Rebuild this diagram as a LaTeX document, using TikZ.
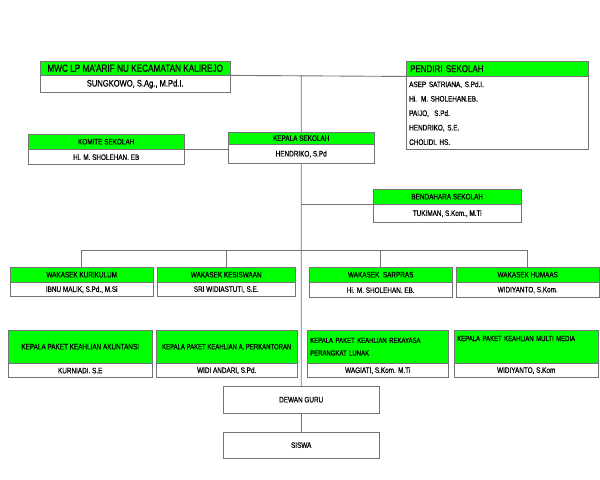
\documentclass[tikz,border=0pt]{standalone}
\usepackage{fontspec}
\setmainfont{Liberation Sans}[FakeStretch=0.8, FakeBold=0.6]
\usetikzlibrary{positioning, backgrounds}
\definecolor{boxgreen}{RGB}{0,255,0}
\definecolor{linegray}{RGB}{115,115,115}
\tikzset{
every node/.style={font=\fontsize{8}{10}\selectfont}, % small condensed text everywhere
head/.style={draw=linegray, fill=boxgreen, anchor=north west, inner sep=2bp, minimum height=15bp}, % green title part
body/.style={draw=linegray, fill=white, inner sep=2bp, minimum height=15bp}, % white name part
link/.style={draw=linegray, line width=0.9bp}, % connecting lines
}

\begin{document}
\begin{tikzpicture}[x=1bp, y=-1bp]
    \useasboundingbox (0,0) rectangle (600,480);
    \coordinate (bus) at (0,250);
    % top row
    \node[head, minimum width=190bp, minimum height=14bp, font=\fontsize{10.3}{12}\selectfont] (mwch) at (40,61) {MWC LP MA'ARIF NU KECAMATAN KALIREJO};
    \node[body, below=0pt of mwch, minimum width=190bp, minimum height=17bp, font=\fontsize{9.5}{11}\selectfont] (mwcb) {SUNGKOWO, S.Ag., M.Pd.I.};
    \node[head, minimum height=14bp, text width=174bp, align=left, inner sep=4bp, font=\fontsize{10}{11}\selectfont] (pendh) at (406,61) {PENDIRI SEKOLAH};
    \node[body, below=0pt of pendh, minimum width=182bp, minimum height=73bp, text width=176bp, inner sep=3bp, align=left, font=\fontsize{8}{14.5}\selectfont] (pendb) {ASEP SATRIANA, S.Pd.I.\\ Hi. M. SHOLEHAN.EB.\\ PAIJO,\ \ S.Pd.\\ HENDRIKO, S.E.\\ CHOLIDI. HS.};
    % second row
    \node[head, minimum width=156bp] (komiteh) at (28,134) {KOMITE SEKOLAH};
    \node[body, below=0pt of komiteh, minimum width=156bp] (komiteb) {Hi. M. SHOLEHAN. EB};
    \node[head, minimum width=146bp, minimum height=12bp] (kepalah) at (228,132) {KEPALA SEKOLAH};
    \node[body, below=0pt of kepalah, minimum width=146bp, minimum height=19bp] (kepalab) {HENDRIKO, S.Pd};
    \node[head, minimum width=148bp] (bendh) at (373,189) {BENDAHARA SEKOLAH};
    \node[body, below=0pt of bendh, minimum width=148bp, minimum height=18bp] (bendb) {TUKIMAN, S.Kom., M.Ti};
    % wakasek row
    \node[head, minimum width=143bp] (kurh) at (10,267) {WAKASEK KURIKULUM};
    \node[body, below=0pt of kurh, minimum width=143bp, minimum height=14bp] (kurb) {IBNU MALIK, S.Pd., M.Si};
    \node[head, minimum width=138bp] (kesh) at (157,267) {WAKASEK KESISWAAN};
    \node[body, below=0pt of kesh, minimum width=138bp, minimum height=14bp] (kesb) {SRI WIDIASTUTI, S.E.};
    \node[head, minimum width=143bp] (sarh) at (309,267) {WAKASEK\ \ SARPRAS};
    \node[body, below=0pt of sarh, minimum width=143bp] (sarb) {Hi. M. SHOLEHAN. EB.};
    \node[head, minimum width=143bp] (humh) at (456,267) {WAKASEK HUMAAS};
    \node[body, below=0pt of humh, minimum width=143bp] (humb) {WIDIYANTO, S.Kom.};
    % kepala paket row
    \node[head, minimum width=144bp, minimum height=33bp] (akunh) at (8,330) {KEPALA PAKET KEAHLIAN AKUNTANSI};
    \node[body, below=0pt of akunh, minimum width=144bp, minimum height=14bp] (akunb) {KURNIADI. S.E};
    \node[head, minimum width=141bp, minimum height=33bp, font=\fontsize{7.5}{10}\selectfont] (kantorh) at (156,330) {KEPALA PAKET KEAHLIAN A. PERKANTORAN};
    \node[body, below=0pt of kantorh, minimum width=141bp, minimum height=14bp] (kantorb) {WIDI ANDARI, S.Pd.};
    \node[head, minimum height=33bp, text width=135bp, inner sep=3bp, align=left, font=\fontsize{7.5}{12.7}\selectfont] (rplh) at (307,330) {KEPALA PAKET KEAHLIAN REKAYASA\\ PERANGKAT LUNAK};
    \node[body, below=0pt of rplh, minimum width=141bp, minimum height=14bp] (rplb) {WAGIATI, S.Kom. M.Ti};
    \node[head, minimum height=33bp, text width=138bp, inner sep=3bp, align=left, font=\fontsize{7.5}{12.7}\selectfont] (mmh) at (454,330) {KEPALA PAKET KEAHLIAN MULTI MEDIA\\ \strut};
    \node[body, below=0pt of mmh, minimum width=144bp, minimum height=14bp] (mmb) {WIDIYANTO, S.Kom};
    % bottom
    \node[body, anchor=north west, minimum width=156bp, minimum height=27bp] (dewan) at (223,386) {DEWAN GURU};
    \node[body, anchor=north west, minimum width=156bp, minimum height=26bp] (siswa) at (223,432) {SISWA};
    % lines
    \begin{scope}[on background layer]
    \draw[link] (mwch.south east) -- (pendh.south west);
    \draw[link] (kepalah.north |- mwch.south east) -- (dewan.north);
    \draw[link] (komiteh.south east) -- (komiteh.south east -| kepalah.west);
    \draw[link] (bendh.south west) -- (bendh.south west -| kepalah.south);
    \draw[link] (kurh.north) |- (bus -| humh.north) -- (humh.north);
    \draw[link] (kesh.north) -- (kesh.north |- bus);
    \draw[link] (sarh.north) -- (sarh.north |- bus);
    \draw[link] (dewan.south) -- (siswa.north);
    \end{scope}
\end{tikzpicture}
\end{document}
